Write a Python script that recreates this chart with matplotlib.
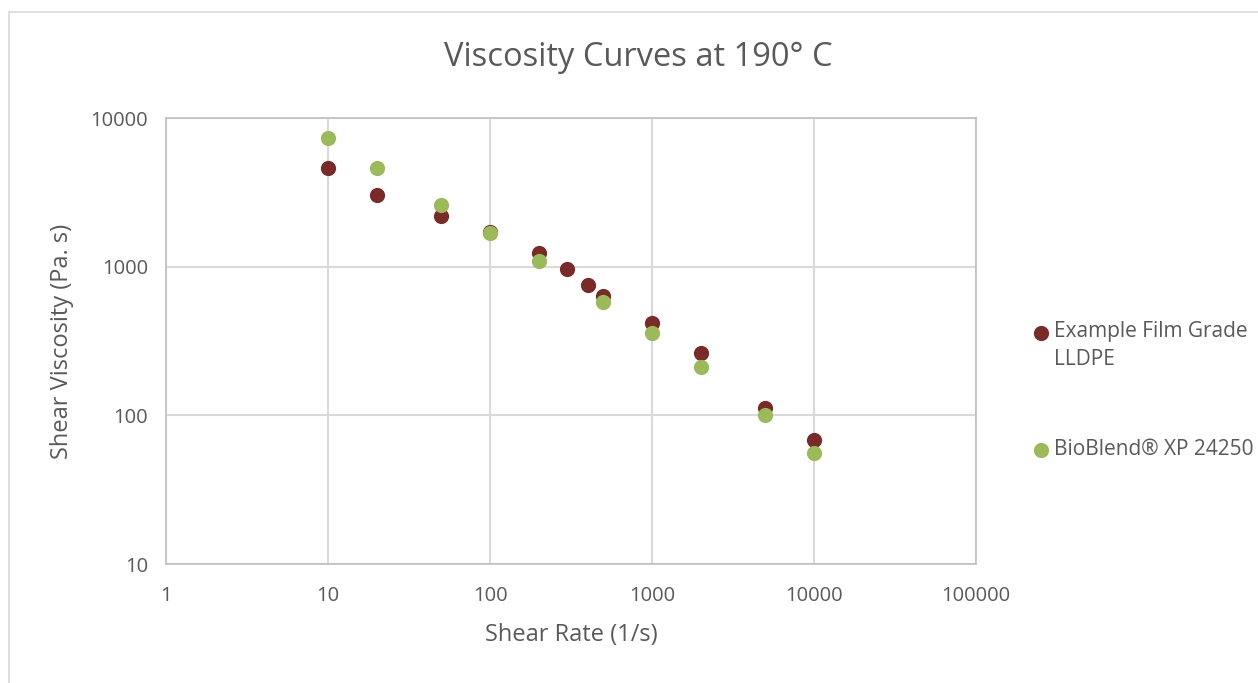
import matplotlib.pyplot as plt
from matplotlib.lines import Line2D

# shear rate (1/s) and viscosity (Pa.s)
rate_lldpe = [10, 20, 50, 100, 200, 300, 400, 500, 1000, 2000, 5000, 10000]
visc_lldpe = [4610, 3035, 2190, 1710, 1236, 966, 754, 635, 418, 263, 112, 68]

rate_bio = [10, 20, 50, 100, 200, 500, 1000, 2000, 5000, 10000]
visc_bio = [7340, 4610, 2600, 1690, 1092, 579, 358, 211, 100, 56]

x_ticks = [1, 10, 100, 1000, 10000, 100000]
y_ticks = [10, 100, 1000, 10000]

red = '#7A2B29'
green = '#9BBB59'
txt = '#595959'
grid = '#D9D9D9'

plt.rcParams['font.family'] = ['Open Sans', 'DejaVu Sans']
plt.rcParams['font.size'] = 14

fig = plt.figure(figsize=(12.58, 6.83), dpi=100)
ax = fig.add_axes([166 / 1258, 1 - 564 / 683, 810 / 1258, 446 / 683])

ax.scatter(rate_lldpe, visc_lldpe, s=120, color=red, zorder=3, linewidths=0,
           label='Example Film Grade\nLLDPE')
ax.scatter(rate_bio, visc_bio, s=120, color=green, zorder=4, linewidths=0,
           label='BioBlend® XP 24250')

ax.set_xscale('log')
ax.set_yscale('log')
ax.set_xlim(1, 100000)
ax.set_ylim(10, 10000)
ax.set_xticks(x_ticks)
ax.set_xticklabels([str(t) for t in x_ticks])
ax.set_yticks(y_ticks)
ax.set_yticklabels([str(t) for t in y_ticks])
ax.minorticks_off()
ax.tick_params(length=0, colors=txt, labelsize=14.5, pad=16)
ax.tick_params(axis='y', pad=13)
ax.grid(True, color=grid, linewidth=1.5, zorder=0)
ax.set_axisbelow(True)
for sp in ax.spines.values():
    sp.set_color('#BFBFBF')
    sp.set_linewidth(1.2)

ax.set_xlabel('Shear Rate (1/s)', color=txt, fontsize=17, labelpad=12)
ax.set_ylabel('Shear Viscosity (Pa. s)', color=txt, fontsize=17, labelpad=12)
fig.text(638 / 1258, 1 - 57 / 683, 'Viscosity Curves at 190° C', color=txt,
         fontsize=23.5, ha='center', va='center')

leg = ax.legend(loc='center left', bbox_to_anchor=(1011 / 1258, 0.428),
                bbox_transform=fig.transFigure, frameon=False, fontsize=15,
                handletextpad=0.05, labelspacing=3.3, handlelength=1.1,
                scatterpoints=1)
for t in leg.get_texts():
    t.set_color(txt)
    t.set_linespacing(1.45)
# Excel puts the marker on the first line of a wrapped label
h = leg.legend_handles[0]
off = h.get_offsets()
off[:, 1] += 11
h.set_offsets(off)

# outer chart border
fig.add_artist(Line2D([9 / 1258, 1], [1 - 12 / 683] * 2, color='#D9D9D9', lw=1.2))
fig.add_artist(Line2D([9 / 1258] * 2, [0, 1 - 12 / 683], color='#D9D9D9', lw=1.2))

fig.savefig('out.png', dpi=100)
